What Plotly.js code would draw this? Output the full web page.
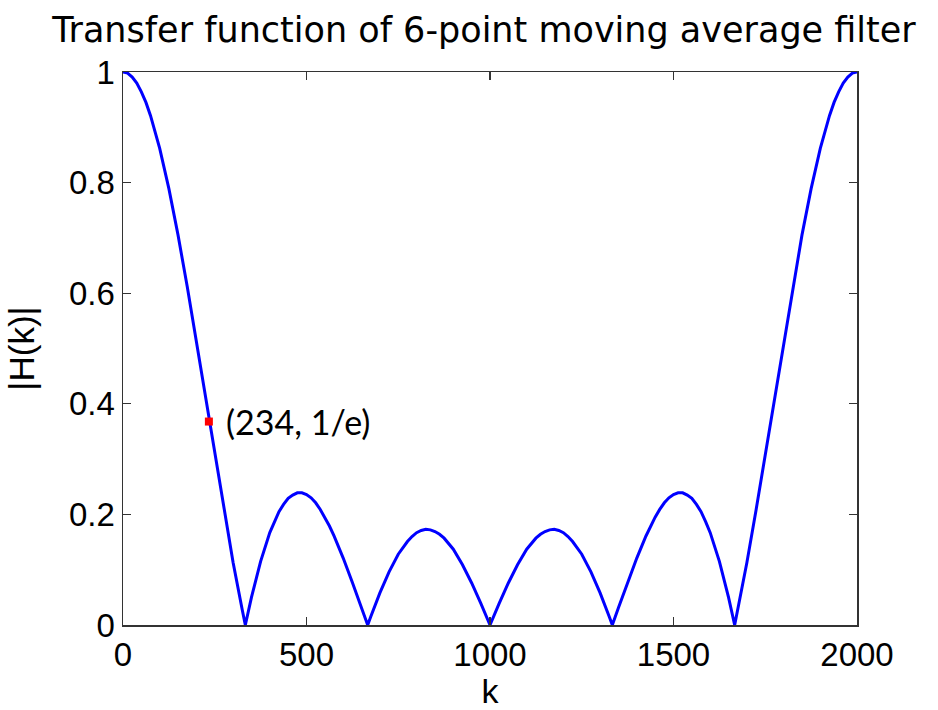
<!DOCTYPE html>
<html>
<head>
<meta charset="utf-8">
<script src="https://cdn.plot.ly/plotly-3.0.1.min.js"></script>
<style>html,body{margin:0;padding:0;background:#fff;}#chart{width:938px;height:710px;}</style>
</head>
<body>
<div id="chart"></div>
<script>
// k values (index)
const kValues = [0,12.5,25,37.5,50,62.5,75,100,125,150,175,200,225,250,275,300,325,333.3,350,375,400,412.5,425,437.5,450,462.5,475,487.5,500,512.5,525,537.5,550,562.5,575,600,625,650,666.7,675,700,725,750,775,787.5,800,812.5,825,837.5,850,862.5,875,900,925,950,975,1000,
  1025,1050,1075,1100,1125,1137.5,1150,1162.5,1175,1187.5,1200,1212.5,1225,1250,1275,1300,1325,1333.3,1350,1375,1400,1425,1437.5,1450,1462.5,1475,1487.5,1500,1512.5,1525,1537.5,1550,1562.5,1575,1587.5,1600,1625,1650,1666.7,1675,1700,1725,1750,1775,1800,1825,1850,1875,1900,1925,1937.5,1950,1962.5,1975,1987.5,2000];
// |H(k)| magnitudes
const hValues = [1,0.998,0.991,0.980,0.964,0.945,0.921,0.862,0.789,0.705,0.612,0.513,0.411,0.308,0.208,0.113,0.027,0,0.050,0.115,0.167,0.187,0.205,0.218,0.229,0.235,0.239,0.239,0.236,0.230,0.221,0.209,0.195,0.179,0.161,0.121,0.077,0.031,0,0.015,0.058,0.096,0.128,0.151,0.160,0.167,0.171,0.173,0.172,0.169,0.164,0.157,0.137,0.109,0.076,0.039,0,
  0.039,0.076,0.109,0.137,0.157,0.164,0.169,0.172,0.173,0.171,0.167,0.160,0.151,0.128,0.096,0.058,0.015,0,0.031,0.077,0.121,0.161,0.179,0.195,0.209,0.221,0.230,0.236,0.239,0.239,0.235,0.229,0.218,0.205,0.187,0.167,0.115,0.050,0,0.027,0.113,0.208,0.308,0.411,0.513,0.612,0.705,0.789,0.862,0.921,0.945,0.964,0.980,0.991,0.998,1];
// highlighted point
const pointK = [234];
const pointH = [0.3679];
const pointLabel = "(234, 1/e)";
// axis ticks
const xTicks = [0,500,1000,1500,2000];
const yTicks = [0,0.2,0.4,0.6,0.8,1];
const yTickText = ["0","0.2","0.4","0.6","0.8","1"];

const traces = [
  {x: kValues, y: hValues, type: 'scatter', mode: 'lines',
   line: {color: '#0000ff', width: 3}, hoverinfo: 'skip'},
  {x: pointK, y: pointH, type: 'scatter', mode: 'markers',
   marker: {color: '#ff0000', size: 8, symbol: 'square'}}
];

const axisCommon = {
  showgrid: false, zeroline: false, showline: true, linecolor: '#333333', linewidth: 1.5,
  ticks: 'inside', ticklen: 8, tickwidth: 1.2, tickcolor: '#333333', mirror: 'ticks',
  tickfont: {family: 'Liberation Sans, Arial, sans-serif', size: 33, color: '#000'}
};

const layout = {
  width: 938, height: 710,
  margin: {l: 123, r: 81, t: 72, b: 85},
  paper_bgcolor: '#ffffff', plot_bgcolor: '#ffffff',
  showlegend: false,
  title: {text: 'Transfer function of 6-point moving average filter',
          font: {family: 'DejaVu Sans, sans-serif', size: 35, color: '#000'},
          x: 0.516, xref: 'container', xanchor: 'center', y: 0.958, yref: 'container', yanchor: 'middle'},
  xaxis: Object.assign({}, axisCommon, {
    range: [0, 2000], tickvals: xTicks, ticktext: xTicks.map(String),
    title: {text: 'k', font: {family: 'Liberation Sans, Arial, sans-serif', size: 34, color: '#000'}, standoff: 6}
  }),
  yaxis: Object.assign({}, axisCommon, {
    range: [0, 1], tickvals: yTicks, ticktext: yTickText,
    title: {text: '|H(k)|', font: {family: 'Liberation Sans, Arial, sans-serif', size: 35, color: '#000'}, standoff: 24}
  }),
  annotations: [{
    x: pointK[0], y: pointH[0], xref: 'x', yref: 'y', text: pointLabel, showarrow: false,
    xanchor: 'left', yanchor: 'middle', xshift: 15,
    font: {family: 'Lato, Open Sans, sans-serif', size: 34, color: '#000'}
  }]
};

Plotly.newPlot('chart', traces, layout, {displayModeBar: false, staticPlot: true});
</script>
</body>
</html>
